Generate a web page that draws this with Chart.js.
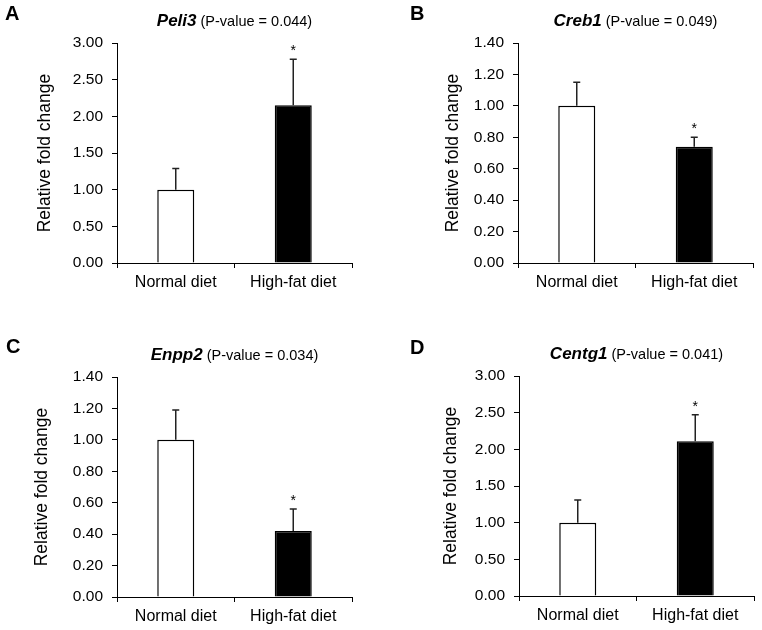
<!DOCTYPE html>
<html>
<head>
<meta charset="utf-8">
<script src="https://cdn.jsdelivr.net/npm/chart.js@4"></script>
<style>
  html, body { margin: 0; padding: 0; background: #fff; }
  #page { position: relative; width: 762px; height: 630px; overflow: hidden; background: #fff; }
  .panel { position: absolute; width: 381px; height: 315px; }
  .letter { position: absolute; font: bold 20px Arial, "Liberation Sans", sans-serif; color: #000; }
</style>
</head>
<body>
<div id="page">
  <div class="panel" style="left:0px;top:0px"><canvas id="chartA" width="381" height="315"></canvas></div>
  <div class="panel" style="left:401px;top:0px"><canvas id="chartB" width="381" height="315"></canvas></div>
  <div class="panel" style="left:0px;top:334px"><canvas id="chartC" width="381" height="315"></canvas></div>
  <div class="panel" style="left:402px;top:333px"><canvas id="chartD" width="381" height="315"></canvas></div>
  <div class="letter" style="left:5px;top:2px">A</div>
  <div class="letter" style="left:410px;top:2px">B</div>
  <div class="letter" style="left:6px;top:335px">C</div>
  <div class="letter" style="left:410px;top:336px">D</div>
</div>
<script>
const categories = ['Normal diet', 'High-fat diet'];

const peli3Mean = [1.00, 2.15];
const peli3Err = [0.29, 0.63];
const creb1Mean = [1.00, 0.74];
const creb1Err = [0.15, 0.06];
const enpp2Mean = [1.00, 0.42];
const enpp2Err = [0.19, 0.14];
const centg1Mean = [1.00, 2.11];
const centg1Err = [0.31, 0.36];

const significant = [false, true];
const barColors = ['#ffffff', '#000000'];

const FONT = 'Arial, "Liberation Sans", sans-serif';

// error bars (upper only) plus the significance star
const errorBars = {
    id: 'errorBars',
    afterDatasetsDraw(chart) {
        const ds = chart.data.datasets[0];
        const meta = chart.getDatasetMeta(0);
        const yScale = chart.scales.y;
        const ctx = chart.ctx;
        ctx.save();
        meta.data.forEach((bar, i) => {
            const top = yScale.getPixelForValue(ds.data[i] + ds.errors[i]);
            ctx.strokeStyle = '#222';
            ctx.lineWidth = 1.5;
            ctx.beginPath();
            ctx.moveTo(bar.x, bar.y);
            ctx.lineTo(bar.x, top);
            ctx.moveTo(bar.x - 3.5, top);
            ctx.lineTo(bar.x + 3.5, top);
            ctx.stroke();
            if (ds.stars[i]) {
                ctx.fillStyle = '#000';
                ctx.font = '14px ' + FONT;
                ctx.textAlign = 'center';
                ctx.textBaseline = 'alphabetic';
                ctx.fillText('*', bar.x, top - 4);
            }
        });
        ctx.restore();
    }
};

// title: gene name in bold italic followed by the p-value
const geneTitle = {
    id: 'geneTitle',
    afterDraw(chart, args, opts) {
        const ctx = chart.ctx;
        const area = chart.chartArea;
        const rest = ' (P-value = ' + opts.p + ')';
        const boldFont = 'italic bold 17px ' + FONT;
        const plainFont = '14.5px ' + FONT;
        ctx.save();
        ctx.font = boldFont;
        const w1 = ctx.measureText(opts.gene).width;
        ctx.font = plainFont;
        const w2 = ctx.measureText(rest).width;
        const x = (area.left + area.right) / 2 - (w1 + w2) / 2;
        const y = area.top - 17;
        ctx.fillStyle = '#000';
        ctx.textBaseline = 'alphabetic';
        ctx.textAlign = 'left';
        ctx.font = boldFont;
        ctx.fillText(opts.gene, x, y);
        ctx.font = plainFont;
        ctx.fillText(rest, x + w1, y);
        ctx.restore();
    }
};

function makeChart(canvasId, gene, p, means, errs, yMax, yStep, titlePad) {
    const ctx = document.getElementById(canvasId);
    new Chart(ctx, {
        type: 'bar',
        data: {
            labels: categories,
            datasets: [{
                data: means,
                errors: errs,
                stars: significant,
                backgroundColor: barColors,
                borderColor: '#000',
                borderWidth: 1.5,
                borderSkipped: 'start',
                barPercentage: 0.315,
                categoryPercentage: 1
            }]
        },
        options: {
            responsive: false,
            animation: false,
            layout: { padding: { top: 43, right: 29, left: 0, bottom: 0 } },
            plugins: {
                legend: { display: false },
                tooltip: { enabled: false },
                geneTitle: { gene: gene, p: p }
            },
            scales: {
                x: {
                    afterFit: s => { s.height = 52; },
                    grid: { drawOnChartArea: false, tickLength: 5, color: '#000', lineWidth: 1 },
                    border: { color: '#000', width: 1 },
                    ticks: { color: '#000', padding: 5, font: { family: FONT, size: 16 } }
                },
                y: {
                    min: 0,
                    max: yMax,
                    afterFit: s => { s.width = 117; },
                    grid: { drawOnChartArea: false, tickLength: 5, color: '#000', lineWidth: 1 },
                    border: { color: '#000', width: 1 },
                    ticks: {
                        stepSize: yStep,
                        color: '#000',
                        padding: 9,
                        font: { family: FONT, size: 15.5 },
                        callback: v => v.toFixed(2)
                    },
                    title: {
                        display: true,
                        text: 'Relative fold change',
                        color: '#000',
                        padding: { top: titlePad, bottom: 0 },
                        font: { family: FONT, size: 17.5 }
                    }
                }
            }
        },
        plugins: [errorBars, geneTitle]
    });
}

makeChart('chartA', 'Peli3', '0.044', peli3Mean, peli3Err, 3.0, 0.5, 35);
makeChart('chartB', 'Creb1', '0.049', creb1Mean, creb1Err, 1.4, 0.2, 42);
makeChart('chartC', 'Enpp2', '0.034', enpp2Mean, enpp2Err, 1.4, 0.2, 32);
makeChart('chartD', 'Centg1', '0.041', centg1Mean, centg1Err, 3.0, 0.5, 39);
</script>
</body>
</html>
